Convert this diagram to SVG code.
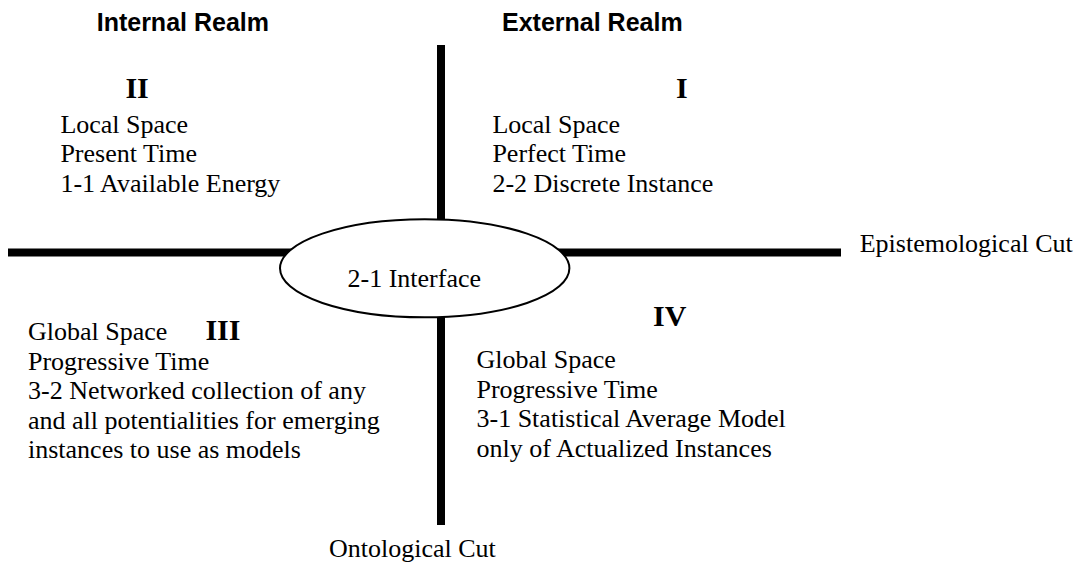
<svg xmlns="http://www.w3.org/2000/svg" width="1080" height="566" viewBox="0 0 1080 566">
<style>
.t{font-family:"Liberation Serif","Times New Roman",serif;font-size:26px;fill:#000}
.n{font-family:"Liberation Serif","Times New Roman",serif;font-size:30px;font-weight:bold;fill:#000}
.h{font-family:"Liberation Sans",Arial,sans-serif;font-size:25px;font-weight:bold;fill:#000}
.cut{stroke:#000;stroke-width:8;fill:none}
</style>
<rect width="1080" height="566" fill="#fff"/>
<g id="connectors">
<line class="cut" x1="8" y1="252.5" x2="841" y2="252.5"/>
<line class="cut" x1="441" y1="45" x2="441" y2="525"/>
</g>
<g id="headers">
<text class="h" x="96.7" y="31">Internal Realm</text>
<text class="h" x="502" y="31">External Realm</text>
</g>
<g id="interface">
<ellipse cx="424.7" cy="268.3" rx="144.7" ry="49" fill="#fff" stroke="#000" stroke-width="2"/>
<text class="t" x="347.5" y="287.3">2-1 Interface</text>
</g>
<g id="quadrant-II">
<text class="n" x="125.4" y="98">II</text>
<text class="t" x="60.4" y="132.5">Local Space</text>
<text class="t" x="60.4" y="162">Present Time</text>
<text class="t" x="60.4" y="191.5">1-1 Available Energy</text>
</g>
<g id="quadrant-I">
<text class="n" x="676" y="98">I</text>
<text class="t" x="492.4" y="132.5">Local Space</text>
<text class="t" x="492.4" y="162">Perfect Time</text>
<text class="t" x="492.4" y="191.5">2-2 Discrete Instance</text>
</g>
<g id="quadrant-III">
<text class="t" x="28" y="340">Global Space</text>
<text class="n" x="205.4" y="340">III</text>
<text class="t" x="28" y="369.5">Progressive Time</text>
<text class="t" x="28" y="399">3-2 Networked collection of any</text>
<text class="t" x="28" y="428.5">and all potentialities for emerging</text>
<text class="t" x="28" y="458">instances to use as models</text>
</g>
<g id="quadrant-IV">
<text class="n" x="653" y="326">IV</text>
<text class="t" x="476.5" y="368">Global Space</text>
<text class="t" x="476.5" y="397.5">Progressive Time</text>
<text class="t" x="476.5" y="427">3-1 Statistical Average Model</text>
<text class="t" x="476.5" y="456.5">only of Actualized Instances</text>
</g>
<g id="labels">
<text class="t" x="859.7" y="252">Epistemological Cut</text>
<text class="t" x="329" y="556.7">Ontological Cut</text>
</g>
</svg>
